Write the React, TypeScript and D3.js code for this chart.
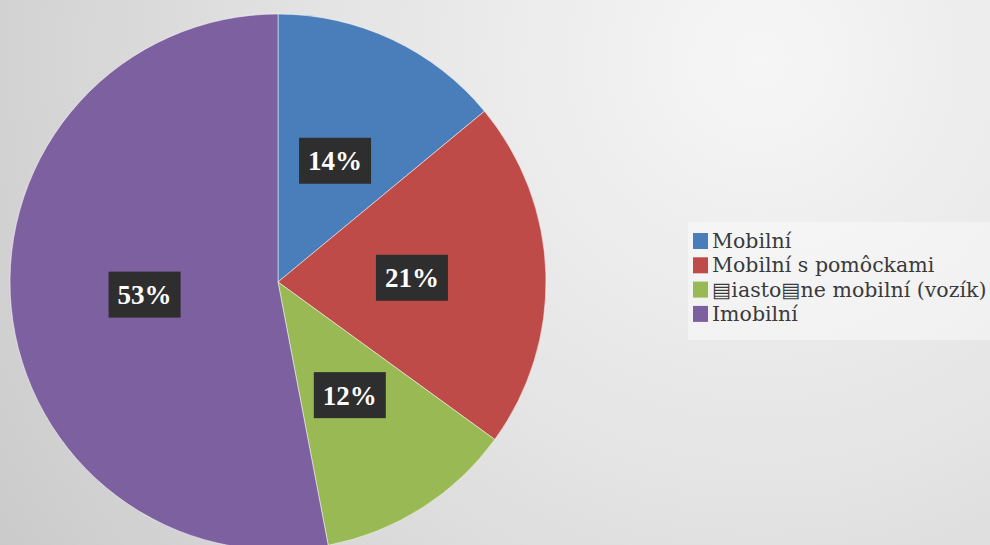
import React, { useEffect, useRef } from "react";
import * as d3 from "d3";

const categories = ["Mobilní", "Mobilní s pomôckami", "\u25A4iasto\u25A4ne mobilní (vozík)", "Imobilní"];
const values = [14, 21, 12, 53];
const labels = ["14%", "21%", "12%", "53%"];
const colors = ["#4a7ebb", "#be4b48", "#98b954", "#7d60a0"];

const W = 990;
const H = 545;

export default function App() {
  const ref = useRef<SVGSVGElement | null>(null);

  useEffect(() => {
    document.body.style.margin = "0";
    const svg = d3.select(ref.current);
    svg.selectAll("*").remove();

    const defs = svg.append("defs");
    const grad = defs
      .append("radialGradient")
      .attr("id", "bg")
      .attr("gradientUnits", "userSpaceOnUse")
      .attr("cx", 760)
      .attr("cy", 60)
      .attr("r", 950);
    grad.append("stop").attr("offset", "0%").attr("stop-color", "#f6f6f6");
    grad.append("stop").attr("offset", "45%").attr("stop-color", "#e4e4e4");
    grad.append("stop").attr("offset", "100%").attr("stop-color", "#c8c8c8");

    svg.append("rect").attr("width", W).attr("height", H).attr("fill", "url(#bg)");

    const cx = 278;
    const cy = 282;
    const r = 268;

    const pie = d3.pie<number>().sort(null).value((d) => d);
    const arcs = pie(values);
    const arc = d3.arc<d3.PieArcDatum<number>>().innerRadius(0).outerRadius(r);
    const labelArc = d3.arc<d3.PieArcDatum<number>>().innerRadius(r * 0.5).outerRadius(r * 0.5);

    const g = svg.append("g").attr("transform", `translate(${cx},${cy})`);
    g.selectAll("path.slice")
      .data(arcs)
      .enter()
      .append("path")
      .attr("class", "slice")
      .attr("d", arc)
      .attr("fill", (_, i) => colors[i])
      .attr("stroke", "rgba(255,255,255,0.5)")
      .attr("stroke-width", 1);

    const lg = g
      .selectAll("g.lbl")
      .data(arcs)
      .enter()
      .append("g")
      .attr("class", "lbl")
      .attr("transform", (d) => {
        const [x, y] = labelArc.centroid(d);
        return `translate(${x},${y})`;
      });
    lg.append("rect")
      .attr("x", -36)
      .attr("y", -23)
      .attr("width", 72)
      .attr("height", 46)
      .attr("fill", "#2e2e2e");
    lg.append("text")
      .attr("text-anchor", "middle")
      .attr("dy", "0.35em")
      .attr("fill", "#ffffff")
      .attr("font-family", "'Liberation Serif', serif")
      .attr("font-weight", "bold")
      .attr("font-size", 27)
      .text((_, i) => labels[i]);

    // legend
    const legX = 688;
    const legY = 222;
    svg
      .append("rect")
      .attr("x", legX)
      .attr("y", legY)
      .attr("width", W - legX)
      .attr("height", 118)
      .attr("fill", "#ffffff")
      .attr("opacity", 0.4);

    const rowY = d3.scaleLinear().domain([0, 1]).range([241, 265.3]);
    const items = svg
      .selectAll("g.leg")
      .data(categories)
      .enter()
      .append("g")
      .attr("class", "leg")
      .attr("transform", (_, i) => `translate(693,${rowY(i)})`);
    items
      .append("rect")
      .attr("x", 0)
      .attr("y", -8)
      .attr("width", 15)
      .attr("height", 16)
      .attr("fill", (_, i) => colors[i]);
    items
      .append("text")
      .attr("x", 19)
      .attr("dy", "0.35em")
      .attr("fill", "#3a3a3a")
      .attr("font-family", "'DejaVu Serif', serif")
      .attr("font-size", 20.5)
      .text((d) => d);
  }, []);

  return (
    <svg
      ref={ref}
      width={W}
      height={H}
      style={{ position: "absolute", left: 0, top: 0, display: "block" }}
    />
  );
}
